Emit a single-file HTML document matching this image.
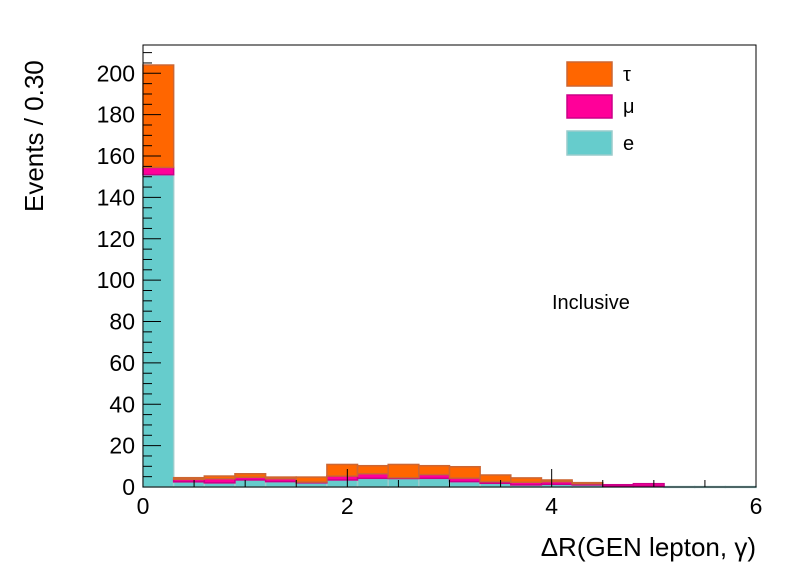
<!DOCTYPE html>
<html><head><meta charset="utf-8"><style>
html,body{margin:0;padding:0;background:#fff}
svg{display:block;font-family:"Liberation Sans",sans-serif}
</style></head><body>
<svg id="c" width="796" height="574"></svg>
<script>
const binEdgesStart = 0, binWidth = 0.3;
const eVals   = [151,2.5,2,3.4,2.6,2.1,3.4,4.2,4.2,4.2,2.6,1.8,1,1.3,1,0.4,0.5,0.2,0.2,0.2];
const muVals  = [3.5,1.2,2,1.3,1.4,0.3,1.9,2.2,0.3,1.8,1.7,0.8,1.3,1.3,0.6,0.7,1.1,0,0,0];
const tauVals = [49.5,0.8,1.3,1.7,0.8,2.4,5.6,3.9,6.4,4.3,5.5,3.2,2.1,0.8,0.5,0,0,0,0,0];
const yTicks = [0,20,40,60,80,100,120,140,160,180,200];
const xTicks = [0,2,4,6];
const NS="http://www.w3.org/2000/svg";
const svg=document.getElementById('c');
const L=143,R=756,T=45,B=487;
const xs=v=>L+(v-0)/6*(R-L);
const ys=v=>B-v/200*(B-73.3);
function mk(t,a,p){const e=document.createElementNS(NS,t);for(const k in a)e.setAttribute(k,a[k]);(p||svg).appendChild(e);return e;}
const series=[{v:eVals,f:'#66cccc',s:'#99cccc',n:'e'},{v:muVals,f:'#ff0099',s:'#cc0088',n:'mu'},{v:tauVals,f:'#ff6600',s:'#cc6633',n:'tau'}];
const base=eVals.map(()=>0);
series.forEach(se=>{
  const g=mk('g',{});
  
  
  se.v.forEach((v,i)=>{
    if(v<=0)return;
    const x0=xs(binEdgesStart+i*binWidth),x1=xs(binEdgesStart+(i+1)*binWidth);
    const y0=ys(base[i]),y1=ys(base[i]+v);
    const r=mk('rect',{x:x0,y:y1,width:x1-x0,height:Math.max(y0-y1,0.8),fill:se.f,stroke:se.s,'stroke-width':1.5},g);
    
    
    base[i]+=v;
  });
});
const fr=mk('rect',{x:L,y:T,width:R-L,height:B-T,fill:'none',stroke:'#000','stroke-width':1});

for(let v=0;v<=210;v+=5){const y=ys(v);const maj=v%20===0;mk('line',{x1:L,x2:L+(maj?18:9),y1:y,y2:y,stroke:'#000'});}
yTicks.forEach(v=>{const t=mk('text',{x:L-8,y:ys(v)+8,'text-anchor':'end','font-size':23});t.textContent=v;
});
for(let v=0;v<=6.001;v+=0.5){const x=xs(v);const maj=Math.abs(v-Math.round(v/2)*2)<1e-6;mk('line',{x1:x,x2:x,y1:B,y2:B-(maj?18:7),stroke:'#000'});}
xTicks.forEach(v=>{const t=mk('text',{x:xs(v),y:B+27,'text-anchor':'middle','font-size':23});t.textContent=v;
});
</script>
<div style="position:absolute;left:0;top:0;width:796px;height:574px;pointer-events:none">
<svg width="796" height="574" style="position:absolute;left:0;top:0;font-family:'Liberation Sans','DejaVu Sans',sans-serif">
<text x="43" y="212" font-size="26" transform="rotate(-90 43 212)">Events / 0.30</text>
<text x="756" y="556" font-size="26" text-anchor="end">ΔR(GEN lepton, γ)</text>
<g>
<rect x="567" y="62" width="45" height="24" fill="#ff6600" stroke="#cc6633" stroke-width="1.5"/>
<text x="623" y="81" font-size="20">τ</text>
<rect x="567" y="95" width="45" height="23" fill="#ff0099" stroke="#cc0088" stroke-width="1.5"/>
<text x="623" y="113" font-size="20">μ</text>
<rect x="567" y="131" width="45" height="24" fill="#66cccc" stroke="#99cccc" stroke-width="1.5"/>
<text x="623" y="150" font-size="20">e</text>
</g>
<text x="552" y="309" font-size="20">Inclusive</text>
</svg></div>
</body></html>
